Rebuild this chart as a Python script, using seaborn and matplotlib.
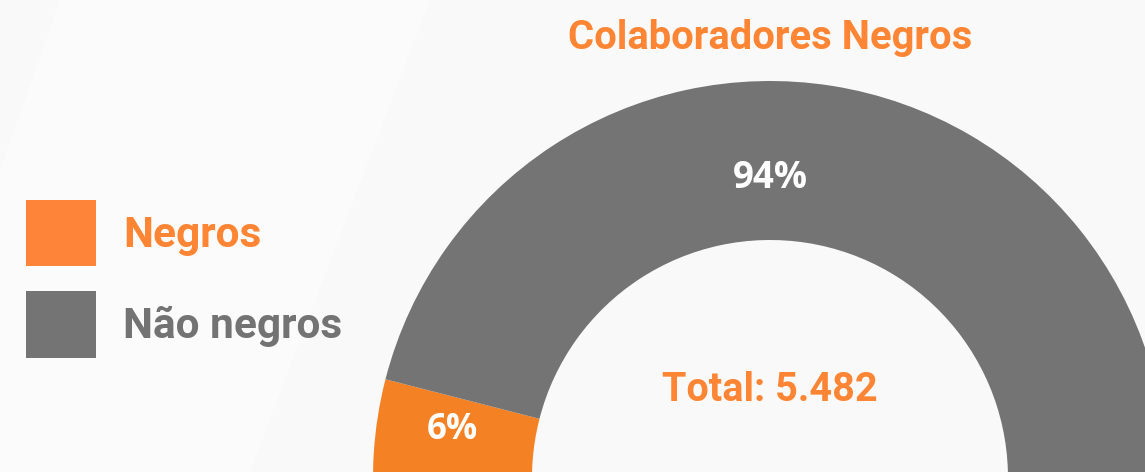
import numpy as np
import pandas as pd
import matplotlib.pyplot as plt
import seaborn as sns
from matplotlib.patches import Polygon

categorias = ['Negros', 'Não negros']
percentuais = [6, 94]
total_colab = '5.482'
titulo = 'Colaboradores Negros'

cor_fatia = ['#f48224', '#747474']
cor_legenda = ['#fe843a', '#747474']
cor_texto = ['#fe8533', '#737373']

sns.set_theme(style='white')
plt.rcParams['font.family'] = ['Roboto', 'DejaVu Sans']

W, H = 1145, 472
fig = plt.figure(figsize=(W / 100, H / 100), dpi=100, facecolor='#f9f9f9')
ax = fig.add_axes([0, 0, 1, 1])
ax.set_facecolor('#f9f9f9')

# faixa clara diagonal no fundo
ax.add_patch(Polygon([(60, H), (430, H), (250, 0), (0, 0), (0, H - 170)],
                     closed=True, color='#fbfbfb', lw=0, zorder=0))

df = pd.DataFrame({'cat': categorias, 'pct': percentuais})

cx, cy = 770, H - 478
R, r = 397, 238
wedges, _ = ax.pie(df['pct'], colors=cor_fatia, startangle=165.6,
                   counterclock=True, radius=R, center=(cx, cy),
                   wedgeprops=dict(width=R - r, linewidth=0), frame=True)

ax.set_xlim(0, W)
ax.set_ylim(0, H)
ax.set_aspect('equal', adjustable='box')
ax.axis('off')

# rótulos de percentual
ax.text(770, H - 178, f'{percentuais[1]}%', color='white', fontsize=26.5,
        fontweight='bold', ha='center', va='center', family=['Open Sans', 'DejaVu Sans'])
ax.text(452, H - 430, f'{percentuais[0]}%', color='white', fontsize=25,
        fontweight='bold', ha='center', va='center', family=['Open Sans', 'DejaVu Sans'])

ax.text(770, H - 390, f'Total: {total_colab}', color='#fe8533', fontsize=28.5,
        fontweight='bold', ha='center', va='center')
ax.text(770, H - 38, titulo, color='#fe8533', fontsize=28.8,
        fontweight='bold', ha='center', va='center')

# legenda
fs = 30.5
px = fs * 100 / 72
k = 67 / 52
leg = ax.legend(wedges, categorias, loc='upper left',
                bbox_to_anchor=(26 / W, 1 - 200 / H), frameon=False,
                borderpad=0, borderaxespad=0,
                handlelength=70 / px, handleheight=67 * k / px,
                handletextpad=27 / px, labelspacing=25 / px,
                prop=dict(weight='bold', size=fs))
for t, c in zip(leg.get_texts(), cor_texto):
    t.set_color(c)
for h, c in zip(leg.legend_handles, cor_legenda):
    h.set_facecolor(c)

fig.savefig('out.png', dpi=100, facecolor=fig.get_facecolor())
